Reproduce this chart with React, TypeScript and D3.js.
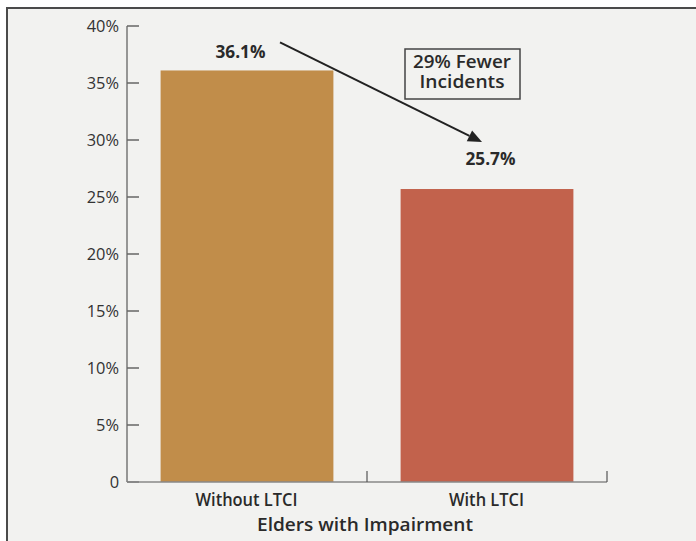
import React from "react";
import * as d3 from "d3";

const categories = ["Without LTCI", "With LTCI"];
const values = [36.1, 25.7];
const valueLabels = ["36.1%", "25.7%"];
const yTicks = [0, 5, 10, 15, 20, 25, 30, 35, 40];
const barColors = ["#c18d4a", "#c2624c"];
const xTitle = "Elders with Impairment";
const calloutLines = ["29% Fewer", "Incidents"];

const W = 696;
const H = 541;
const FONT = "'Open Sans', Lato, sans-serif";
const INK = "#2a2a2a";

export default function App() {
  const x = d3.scaleBand<string>().domain(categories).range([127, 607]).padding(0);
  const y = d3.scaleLinear().domain([0, 40]).range([482, 26]);
  const bw = x.bandwidth() * 0.72;

  const cx = (c: string) => (x(c) as number) + x.bandwidth() / 2;

  const ax0 = cx(categories[0]);
  const ax1 = cx(categories[1]);

  // arrow geometry
  const a1 = { x: ax0 + 33, y: y(values[0]) - 28 };
  const a2 = { x: ax1 - 5, y: y(values[1]) - 47 };

  const catLen = [102, 75];

  const ang = Math.atan2(a2.y - a1.y, a2.x - a1.x);
  const L = 14, Wd = 6;
  const bx = a2.x - L * Math.cos(ang);
  const by = a2.y - L * Math.sin(ang);
  const px = -Math.sin(ang) * Wd;
  const py = Math.cos(ang) * Wd;

  return (
    <svg
      width={W}
      height={H}
      style={{ position: "absolute", left: 0, top: 0, fontFamily: FONT }}
    >
      <rect x={0} y={0} width={W} height={H} fill="#ffffff" />
      <rect x={7} y={8} width={W + 20} height={H + 20} fill="#f2f2f0" stroke="#4a4a4a" strokeWidth={2} />

      {/* bars */}
      {categories.map((c, i) => (
        <rect
          key={c}
          x={cx(c) - bw / 2}
          y={y(values[i])}
          width={bw}
          height={y(0) - y(values[i])}
          fill={barColors[i]}
        />
      ))}

      {/* y axis */}
      <line x1={127} x2={127} y1={y(40)} y2={y(0)} stroke="#777" strokeWidth={1.5} />
      {yTicks.map((t) => (
        <g key={t}>
          <line x1={127} x2={139} y1={y(t)} y2={y(t)} stroke="#666" strokeWidth={1.5} />
          <text x={119} y={y(t)} dy="0.37em" textAnchor="end" fontSize={16.4} fontWeight={500} fill="#333">
            {t === 0 ? "0" : `${t}%`}
          </text>
        </g>
      ))}

      {/* x axis */}
      <line x1={127} x2={607} y1={y(0)} y2={y(0)} stroke="#888" strokeWidth={1.5} />
      {categories.map((c) => (
        <line
          key={c + "t"}
          x1={(x(c) as number) + x.bandwidth()}
          x2={(x(c) as number) + x.bandwidth()}
          y1={y(0)}
          y2={y(0) - 11}
          stroke="#555"
          strokeWidth={1.2}
        />
      ))}
      {categories.map((c, i) => (
        <text
          key={c + "l"}
          x={cx(c) - 0.5}
          y={505.7}
          textAnchor="middle"
          fontSize={18.6}
          fontWeight={600}
          fill={INK}
          textLength={catLen[i]}
          lengthAdjust="spacingAndGlyphs"
        >
          {c}
        </text>
      ))}
      <text
        x={365}
        y={531}
        textAnchor="middle"
        fontSize={18.6}
        fontWeight={600}
        fill={INK}
        textLength={216}
        lengthAdjust="spacingAndGlyphs"
      >
        {xTitle}
      </text>

      {/* value labels */}
      <text
        x={ax0 - 6.5}
        y={58}
        textAnchor="middle"
        fontSize={18.2}
        fontWeight={700}
        fill={INK}
        textLength={50}
        lengthAdjust="spacingAndGlyphs"
      >
        {valueLabels[0]}
      </text>
      <text
        x={ax1 + 3.5}
        y={165}
        textAnchor="middle"
        fontSize={18.2}
        fontWeight={700}
        fill={INK}
        textLength={50}
        lengthAdjust="spacingAndGlyphs"
      >
        {valueLabels[1]}
      </text>

      {/* arrow */}
      <line x1={a1.x} y1={a1.y} x2={bx} y2={by} stroke="#222" strokeWidth={2} />
      <path d={`M${a2.x},${a2.y}L${bx + px},${by + py}L${bx - px},${by - py}Z`} fill="#222" />

      {/* callout box */}
      <rect x={405} y={49} width={115} height={50} fill="#f2f2f0" stroke="#444" strokeWidth={1.5} />
      <text
        x={462}
        y={68.3}
        textAnchor="middle"
        fontSize={17.5}
        fontWeight={600}
        fill={INK}
        textLength={98}
        lengthAdjust="spacingAndGlyphs"
      >
        {calloutLines[0]}
      </text>
      <text
        x={462}
        y={88}
        textAnchor="middle"
        fontSize={17.5}
        fontWeight={600}
        fill={INK}
        textLength={85}
        lengthAdjust="spacingAndGlyphs"
      >
        {calloutLines[1]}
      </text>
    </svg>
  );
}
